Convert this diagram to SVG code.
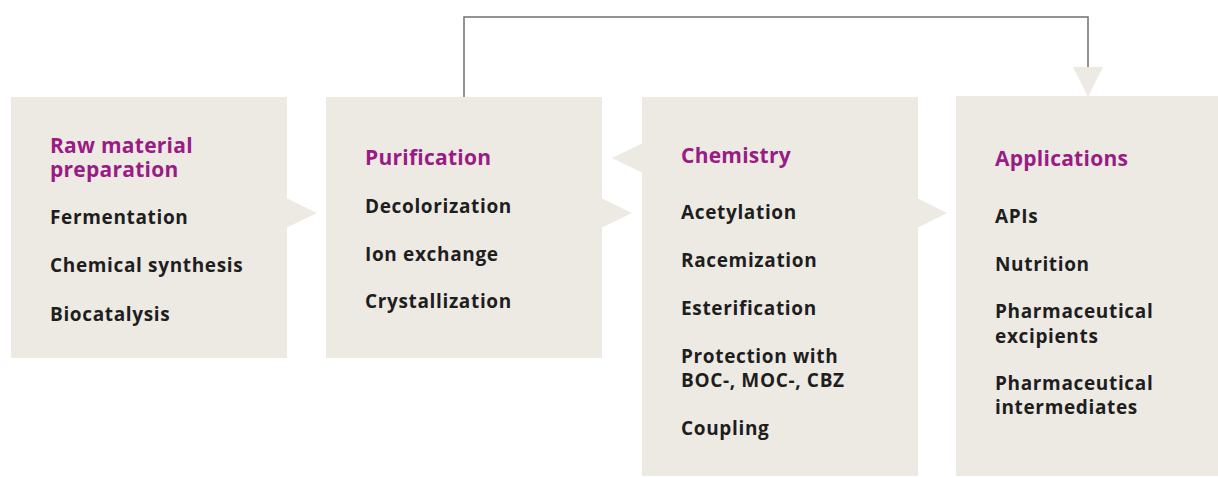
<svg xmlns="http://www.w3.org/2000/svg" width="1218" height="477" viewBox="0 0 1218 477">
<style>
.box{fill:#EDEAE3}
.arr{fill:#EDEAE3}
.t{font-family:"Open Sans","Liberation Sans",sans-serif;font-weight:700;fill:#9B1B85;font-size:21px;letter-spacing:0.25px}
.i{font-family:"Open Sans","Liberation Sans",sans-serif;font-weight:700;fill:#1E1E1E;font-size:19px;letter-spacing:0.65px}
.ln{fill:none;stroke:#707070;stroke-width:1.5}
</style>
<rect width="1218" height="477" fill="#FFFFFF"/>
<g id="connectors">
<polyline class="ln" points="464,97 464,17 1088,17 1088,68"/>
<polygon class="arr" points="1073,67 1103,67 1088,97"/>
<polygon class="arr" points="286,198 317,213 286,228"/>
<polygon class="arr" points="601,198 632,213 601,228"/>
<polygon class="arr" points="643,143 612,158 643,173"/>
<polygon class="arr" points="917,198 947,213 917,228"/>
</g>
<g id="raw">
<rect class="box" x="11" y="97" width="276" height="261"/>
<text class="t" x="50" y="153">Raw material</text>
<text class="t" x="50" y="177">preparation</text>
<text class="i" x="50" y="224">Fermentation</text>
<text class="i" x="50" y="272">Chemical synthesis</text>
<text class="i" x="50" y="321">Biocatalysis</text>
</g>
<g id="purification">
<rect class="box" x="326" y="97" width="276" height="261"/>
<text class="t" x="365" y="165">Purification</text>
<text class="i" x="365" y="213">Decolorization</text>
<text class="i" x="365" y="261">Ion exchange</text>
<text class="i" x="365" y="308">Crystallization</text>
</g>
<g id="chemistry">
<rect class="box" x="642" y="97" width="276" height="379"/>
<text class="t" x="681" y="163">Chemistry</text>
<text class="i" x="681" y="219">Acetylation</text>
<text class="i" x="681" y="267">Racemization</text>
<text class="i" x="681" y="315">Esterification</text>
<text class="i" x="681" y="363">Protection with</text>
<text class="i" x="681" y="387">BOC-, MOC-, CBZ</text>
<text class="i" x="681" y="435">Coupling</text>
</g>
<g id="applications">
<rect class="box" x="956" y="96" width="276" height="380"/>
<text class="t" x="995" y="166">Applications</text>
<text class="i" x="995" y="223">APIs</text>
<text class="i" x="995" y="271">Nutrition</text>
<text class="i" x="995" y="318">Pharmaceutical</text>
<text class="i" x="995" y="343">excipients</text>
<text class="i" x="995" y="390">Pharmaceutical</text>
<text class="i" x="995" y="414">intermediates</text>
</g>
</svg>
